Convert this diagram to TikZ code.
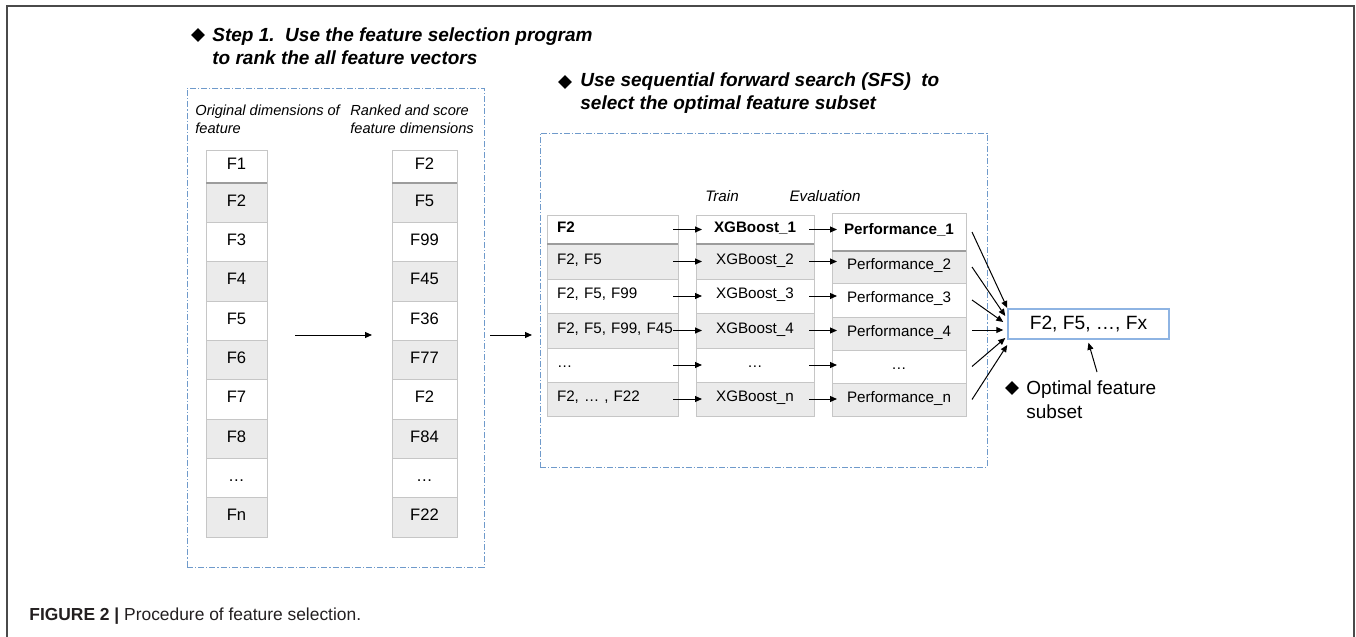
\documentclass[tikz,border=0pt]{standalone}
\usepackage{fontspec}
\setmainfont{Liberation Sans}
\usetikzlibrary{arrows.meta,shapes.geometric,positioning,calc}

\definecolor{rowgray}{HTML}{EBEBEB}
\definecolor{cellline}{HTML}{C6C6C6}
\definecolor{sepgray}{HTML}{9C9C9C}
\definecolor{boxblue}{HTML}{6F9ACB}
\definecolor{resblue}{HTML}{8EB4E3}
\definecolor{framegray}{HTML}{4A4A4A}
\definecolor{capgray}{HTML}{231F20}

\tikzset{
  arr/.style={-{Triangle[length=3.5pt,width=3pt]}, line width=0.5pt},
  rowa/.style={fill=white},
  rowb/.style={fill=rowgray},
  fcell/.style={draw=cellline, line width=0.5pt, inner sep=0pt, outer sep=0pt,
    minimum height=19.67pt, text height=5.9pt, text depth=2.5pt,
    font=\fontsize{8.3}{10}\selectfont},
  lcol/.style={fcell, minimum width=30.5pt},
  rcol/.style={fcell, minimum width=32.5pt},
  tcell/.style={draw=cellline, line width=0.5pt, inner sep=0pt, outer sep=0pt,
    text height=5.4pt, text depth=2.6pt, font=\fontsize{7.6}{9}\selectfont},
  setcol/.style={tcell, minimum width=65.5pt, text width=55.5pt, align=left},
  mdlcol/.style={tcell, minimum width=59pt},
  evlcol/.style={tcell, minimum width=67pt},
  sepline/.style={draw=sepgray, line width=1pt},
  dbox/.style={draw=boxblue, line width=0.5pt, inner sep=0pt,
    dash pattern=on 3pt off 1pt on 0.6pt off 1pt},
  bullet/.style={diamond, fill=black, inner sep=0pt, minimum width=7pt, minimum height=7pt},
  ttl/.style={anchor=west, align=left, inner sep=0pt,
    font=\bfseries\itshape\fontsize{9.5}{11.5}\selectfont},
  hdr/.style={anchor=west, align=left, inner sep=0pt,
    font=\itshape\fontsize{7.3}{9}\selectfont},
  sub/.style={inner sep=0pt, font=\itshape\fontsize{7.6}{9}\selectfont},
  resbox/.style={draw=resblue, line width=0.75pt, fill=white, inner sep=0pt,
    minimum width=80.5pt, minimum height=15pt, font=\fontsize{9.6}{11}\selectfont}
}

\begin{document}
\begin{tikzpicture}[x=0.5pt,y=-0.5pt]
  \useasboundingbox (0,0) rectangle (1356,637);
  \draw[framegray, line width=1pt] (7,637) -- (7,6) -- (1354,6) -- (1354,637);

  % titles
  \node[bullet] (d1) at (198,35) {};
  \node[ttl] (t1) at (212,46.5) {Step 1.\ \ Use the feature selection program\\to rank the all feature vectors};
  \node[bullet] (d2) at (565,82) {};
  \node[ttl] (t2) at (580,93.5) {Use sequential forward search (SFS)\ \ to\\select the optimal feature subset};

  % dashed frames
  \node[dbox, minimum width=148.5pt, minimum height=239.5pt] (lbox) at (335.5,327.5) {};
  \node[dbox, minimum width=223.5pt, minimum height=167pt] (rbox) at (763.5,300) {};

  \node[hdr] (orig) at (195,119) {Original dimensions of\\feature};
  \node[hdr] (rank) at (350,119) {Ranked and score\\feature dimensions};

  \node[lcol, rowa, minimum height=16.5pt] (o1) at (236.5,166.5) {F1};
  \node[lcol, rowb] (o2) at (236.5,202.67) {F2};
  \node[lcol, rowa] (o3) at (236.5,242) {F3};
  \node[lcol, rowb] (o4) at (236.5,281.33) {F4};
  \node[lcol, rowa] (o5) at (236.5,320.67) {F5};
  \node[lcol, rowb] (o6) at (236.5,360) {F6};
  \node[lcol, rowa] (o7) at (236.5,399.33) {F7};
  \node[lcol, rowb] (o8) at (236.5,438.67) {F8};
  \node[lcol, rowa] (o9) at (236.5,478) {…};
  \node[lcol, rowb] (o10) at (236.5,517.33) {Fn};
  \draw[sepline] (o1.south west) -- (o1.south east);

  \node[rcol, rowa, minimum height=16.5pt] (r1) at (424.5,166.5) {F2};
  \node[rcol, rowb] (r2) at (424.5,202.67) {F5};
  \node[rcol, rowa] (r3) at (424.5,242) {F99};
  \node[rcol, rowb] (r4) at (424.5,281.33) {F45};
  \node[rcol, rowa] (r5) at (424.5,320.67) {F36};
  \node[rcol, rowb] (r6) at (424.5,360) {F77};
  \node[rcol, rowa] (r7) at (424.5,399.33) {F2};
  \node[rcol, rowb] (r8) at (424.5,438.67) {F84};
  \node[rcol, rowa] (r9) at (424.5,478) {…};
  \node[rcol, rowb] (r10) at (424.5,517.33) {F22};
  \draw[sepline] (r1.south west) -- (r1.south east);

  \coordinate (h1) at (295,335);
  \coordinate (h2) at (372,335);
  \draw[arr] (h1) -- (h2);
  \coordinate (g1) at (490,335);
  \coordinate (g2) at (532,335);
  \draw[arr] (g1) -- (g2);

  % search table
  \node[sub] (trn) at (722,196) {Train};
  \node[sub] (evl) at (825,196) {Evaluation};

  \node[setcol, rowa, minimum height=14.5pt] (f1) at (612.5,229.5) {\textbf{F2}};
  \node[setcol, rowb, minimum height=17.5pt] (f2) at (612.5,261.5) {F2,~F5};
  \node[setcol, rowa, minimum height=17pt] (f3) at (612.5,296) {F2,~F5,~F99};
  \node[setcol, rowb, minimum height=17.5pt] (f4) at (612.5,330.5) {F2,~F5,~F99,~F45};
  \node[setcol, rowa, minimum height=17pt] (f5) at (612.5,365) {…};
  \node[setcol, rowb, minimum height=17pt] (f6) at (612.5,399) {F2,~…~,~F22};
  \draw[sepline] (f1.south west) -- (f1.south east);

  \node[mdlcol, rowa, minimum height=14.5pt] (c1) at (755,229.5) {\textbf{XGBoost\_1}};
  \node[mdlcol, rowb, minimum height=17.5pt] (c2) at (755,261.5) {XGBoost\_2};
  \node[mdlcol, rowa, minimum height=17pt] (c3) at (755,296) {XGBoost\_3};
  \node[mdlcol, rowb, minimum height=17.5pt] (c4) at (755,330.5) {XGBoost\_4};
  \node[mdlcol, rowa, minimum height=17pt] (c5) at (755,365) {…};
  \node[mdlcol, rowb, minimum height=17pt] (c6) at (755,399) {XGBoost\_n};
  \draw[sepline] (c1.south west) -- (c1.south east);

  \node[evlcol, rowa, minimum height=19pt] (p1) at (899,232) {\textbf{Performance\_1}};
  \node[evlcol, rowb, minimum height=16pt] (p2) at (899,267) {Performance\_2};
  \node[evlcol, rowa, minimum height=17pt] (p3) at (899,300) {Performance\_3};
  \node[evlcol, rowb, minimum height=16.5pt] (p4) at (899,333.5) {Performance\_4};
  \node[evlcol, rowa, minimum height=16.5pt] (p5) at (899,366.5) {…};
  \node[evlcol, rowb, minimum height=16.5pt] (p6) at (899,399.5) {Performance\_n};
  \draw[sepline] (p1.south west) -- (p1.south east);

  \draw[arr] ([xshift=-2.5pt]f1.east) -- ([xshift=3pt]c1.west);
  \draw[arr] ([xshift=-2.5pt]f2.east) -- ([xshift=3pt]c2.west);
  \draw[arr] ([xshift=-2.5pt]f3.east) -- ([xshift=3pt]c3.west);
  \draw[arr] ([xshift=-2.5pt]f4.east) -- ([xshift=3pt]c4.west);
  \draw[arr] ([xshift=-2.5pt]f5.east) -- ([xshift=3pt]c5.west);
  \draw[arr] ([xshift=-2.5pt]f6.east) -- ([xshift=3pt]c6.west);

  \draw[arr] ([xshift=-2.5pt]c1.east) -- ($(c1.east -| p1.west)+(2.5pt,0)$);
  \draw[arr] ([xshift=-2.5pt]c2.east) -- ($(c2.east -| p2.west)+(2.5pt,0)$);
  \draw[arr] ([xshift=-2.5pt]c3.east) -- ($(c3.east -| p3.west)+(2.5pt,0)$);
  \draw[arr] ([xshift=-2.5pt]c4.east) -- ($(c4.east -| p4.west)+(2.5pt,0)$);
  \draw[arr] ([xshift=-2.5pt]c5.east) -- ($(c5.east -| p5.west)+(2.5pt,0)$);
  \draw[arr] ([xshift=-2.5pt]c6.east) -- ($(c6.east -| p6.west)+(2.5pt,0)$);

  % optimal subset
  \node[resbox] (res) at (1088.5,324) {F2, F5, …, Fx};
  \draw[arr] ([xshift=3pt]p1.east) -- ([yshift=8pt]res.west);
  \draw[arr] ([xshift=3pt]p2.east) -- ([xshift=-1pt,yshift=4pt]res.west);
  \draw[arr] ([xshift=3pt]p3.east) -- ([xshift=-2pt,yshift=1pt]res.west);
  \draw[arr] ([xshift=3pt,yshift=1.75pt]p4.east) -- ([xshift=-2pt,yshift=-3pt]res.west);
  \draw[arr] ([xshift=3pt]p5.east) -- ([xshift=-1pt,yshift=-7pt]res.west);
  \draw[arr] ([xshift=3pt]p6.east) -- ([yshift=-10.5pt]res.west);

  \node[bullet] (d3) at (1012,388) {};
  \node[anchor=west, align=left, inner sep=0pt, font=\fontsize{9.5}{12}\selectfont] (opt) at (1026,400) {Optimal feature\\subset};
  \coordinate (oa) at (1097,372);
  \draw[arr] (oa) -- ([yshift=-1.5pt]res.south);

  \node[anchor=west, inner sep=0pt, text=capgray, font=\fontsize{8.7}{10}\selectfont] (cap) at (29,616) {\textbf{FIGURE 2 |} Procedure of feature selection.};
\end{tikzpicture}
\end{document}
